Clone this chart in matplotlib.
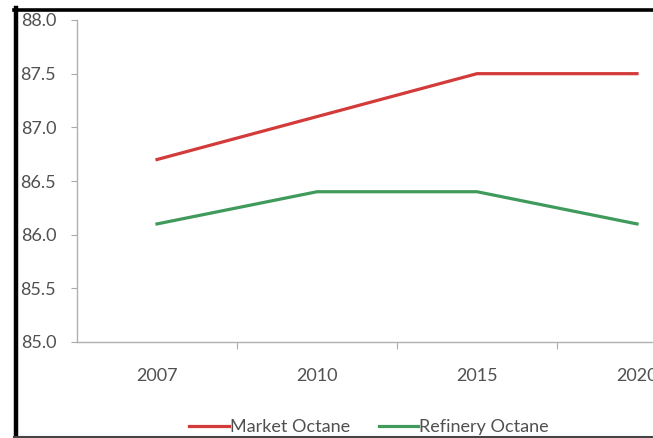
import matplotlib.pyplot as plt
from matplotlib.lines import Line2D

years = ['2007', '2010', '2015', '2020']
market_octane = [86.7, 87.1, 87.5, 87.5]
refinery_octane = [86.1, 86.4, 86.4, 86.1]

W, H = 653, 438
fig = plt.figure(figsize=(W / 100, H / 100), dpi=100)
plt.rcParams['font.family'] = ['Lato', 'DejaVu Sans']

# plot area runs past the right edge of the frame
ax = fig.add_axes([77 / W, 1 - 342 / H, 640 / W, 322 / H])
x = range(len(years))
ax.plot(x, market_octane, color='#d33b3b', lw=2.3, label='Market Octane')
ax.plot(x, refinery_octane, color='#3f9a5b', lw=2.3, label='Refinery Octane')

ax.set_xlim(-0.5, 3.5)
ax.set_ylim(85.0, 88.0)
ax.set_yticks([85.0, 85.5, 86.0, 86.5, 87.0, 87.5, 88.0])
ax.set_yticklabels(['%.1f' % v for v in ax.get_yticks()])

ax.set_xticks([0.5, 1.5, 2.5])
ax.set_xticklabels([])
ax.set_xticks(list(x), minor=True)
ax.set_xticklabels(years, minor=True)
ax.tick_params(axis='x', which='major', direction='out', length=5, color='#aaaaaa')
ax.tick_params(axis='x', which='minor', length=0, pad=19, labelsize=13, labelcolor='#505050')
ax.tick_params(axis='y', direction='out', length=4, color='#aaaaaa', pad=11,
               labelsize=13, labelcolor='#505050')

for side in ['top', 'right']:
    ax.spines[side].set_visible(False)
for side in ['left', 'bottom']:
    ax.spines[side].set_color('#b0b0b0')
    ax.spines[side].set_linewidth(1.0)

fig.legend(loc='center', bbox_to_anchor=(369 / W, 1 - 427 / H), ncol=2, frameon=False,
           fontsize=13, labelcolor='#505050', handlelength=2.2, handletextpad=0.05,
           columnspacing=1.6)

# black frame around the chart
fig.add_artist(Line2D([16 / W, 16 / W], [0, 1 - 8 / H], color='black', lw=3.2,
                      transform=fig.transFigure))
fig.add_artist(Line2D([14 / W, 1], [1 - 9.5 / H, 1 - 9.5 / H], color='black', lw=2.6,
                      transform=fig.transFigure))
fig.add_artist(Line2D([14 / W, 1], [1 - 436.5 / H, 1 - 436.5 / H], color='#444444', lw=1.5,
                      transform=fig.transFigure))

fig.savefig('out.png', dpi=100)
